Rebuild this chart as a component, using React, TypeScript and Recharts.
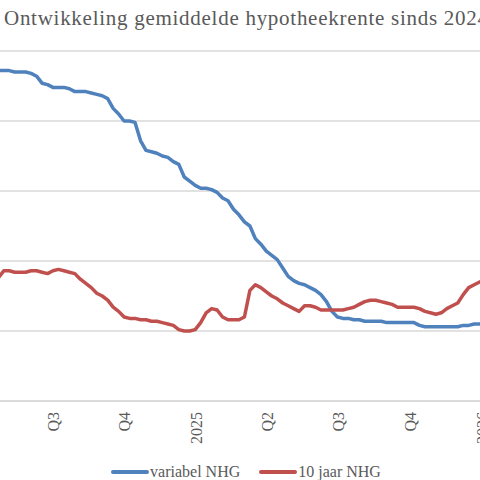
import React from 'react';
import { LineChart, Line, XAxis, YAxis, CartesianGrid, Legend } from 'recharts';

// weekly averages, first week starting 2024-04-22
const firstWeek = '2024-04-22';

const variabelNHG = [
  5.36, 5.36, 5.36, 5.35, 5.35, 5.35, 5.34, 5.32, 5.27, 5.26,
  5.24, 5.24, 5.24, 5.23, 5.21, 5.21, 5.21, 5.20, 5.19, 5.18,
  5.16, 5.09, 5.05, 5.00, 5.00, 4.99, 4.86, 4.79, 4.78, 4.77,
  4.75, 4.74, 4.71, 4.69, 4.60, 4.57, 4.54, 4.52, 4.52, 4.51,
  4.49, 4.45, 4.43, 4.37, 4.33, 4.28, 4.25, 4.16, 4.12, 4.07,
  4.04, 4.01, 3.95, 3.89, 3.86, 3.84, 3.83, 3.81, 3.79, 3.76,
  3.71, 3.64, 3.60, 3.59, 3.59, 3.58, 3.58, 3.57, 3.57, 3.57,
  3.57, 3.56, 3.56, 3.56, 3.56, 3.56, 3.56, 3.54, 3.53, 3.53,
  3.53, 3.53, 3.53, 3.53, 3.53, 3.54, 3.54, 3.55, 3.55, 3.55,
  3.55, 3.55,
];

const tienJaarNHG = [
  3.88, 3.93, 3.93, 3.92, 3.92, 3.92, 3.93, 3.93, 3.92, 3.91,
  3.93, 3.94, 3.93, 3.92, 3.91, 3.87, 3.84, 3.81, 3.77, 3.75,
  3.72, 3.67, 3.64, 3.60, 3.59, 3.59, 3.58, 3.58, 3.57, 3.57,
  3.56, 3.55, 3.54, 3.51, 3.50, 3.50, 3.51, 3.56, 3.63, 3.66,
  3.65, 3.60, 3.58, 3.58, 3.58, 3.60, 3.79, 3.83, 3.81, 3.78,
  3.75, 3.73, 3.70, 3.68, 3.66, 3.64, 3.68, 3.68, 3.67, 3.65,
  3.65, 3.65, 3.65, 3.65, 3.66, 3.67, 3.69, 3.71, 3.72, 3.72,
  3.71, 3.70, 3.69, 3.67, 3.67, 3.67, 3.67, 3.66, 3.64, 3.63,
  3.62, 3.63, 3.66, 3.68, 3.70, 3.76, 3.81, 3.83, 3.85, 3.86,
  3.86, 3.87,
];

const tickDates = ['2024-07-01', '2024-10-01', '2025-01-01', '2025-04-01', '2025-07-01', '2025-10-01', '2026-01-01'];
const tickLabels = ['Q3', 'Q4', '2025', 'Q2', 'Q3', 'Q4', '2026'];
const yTicks = [3, 3.5, 4, 4.5, 5, 5.5];

const origin = Date.UTC(2024, 0, 1);
const dayOf = (iso: string) => (Date.parse(iso + 'T00:00:00Z') - origin) / 86400000;

const data = variabelNHG.map((v, i) => ({
  day: dayOf(firstWeek) + i * 7,
  variabel: v,
  tienJaar: tienJaarNHG[i],
}));

const tickDays = tickDates.map(dayOf);

const FONT = '"Liberation Serif", serif';
const GREY = '#595959';
const BLUE = '#4f81bd';
const RED = '#c0504d';

const QuarterTick = (props: any) => {
  const { x, y, payload } = props;
  const idx = tickDays.indexOf(payload.value);
  return (
    <text
      x={x}
      y={y}
      dy="0.35em"
      transform={`rotate(-90, ${x}, ${y})`}
      textAnchor="end"
      fill={GREY}
      fontSize={16}
      fontFamily={FONT}
    >
      {idx >= 0 ? tickLabels[idx] : ''}
    </text>
  );
};

const renderLegend = () => {
  const items = [
    { name: 'variabel NHG', color: BLUE },
    { name: '10 jaar NHG', color: RED },
  ];
  return (
    <div style={{ display: 'flex', justifyContent: 'center', alignItems: 'center', height: 16, fontFamily: FONT, fontSize: 16, color: GREY }}>
      {items.map((it, i) => (
        <div key={it.name} style={{ display: 'flex', alignItems: 'center', marginRight: i === 0 ? 19 : 0 }}>
          <svg width={38} height={6}>
            <line x1={2} y1={3} x2={36} y2={3} stroke={it.color} strokeWidth={4} strokeLinecap="round" />
          </svg>
          <span style={{ marginLeft: 1, lineHeight: '16px', whiteSpace: 'nowrap' }}>{it.name}</span>
        </div>
      ))}
    </div>
  );
};

export default function App() {
  return (
    <div style={{ position: 'fixed', left: 0, top: 0, width: 480, height: 480, overflow: 'hidden', background: '#fff' }}>
      <div style={{ position: 'absolute', left: -12, top: 0 }}>
        <LineChart width={516} height={480} data={data} margin={{ top: 51, right: 0, bottom: 0, left: 0 }}>
          <CartesianGrid vertical={false} stroke="#d9d9d9" strokeWidth={1.3} />
          <XAxis
            dataKey="day"
            type="number"
            domain={[98.84, 759.19]}
            allowDataOverflow
            ticks={tickDays}
            interval={0}
            tick={<QuarterTick />}
            tickLine={false}
            tickSize={0}
            tickMargin={11}
            height={63}
            axisLine={{ stroke: '#d9d9d9', strokeWidth: 1.3 }}
          />
          <YAxis hide width={0} domain={[3, 5.5]} ticks={yTicks} />
          <Legend verticalAlign="bottom" content={renderLegend} />
          <Line type="linear" dataKey="variabel" name="variabel NHG" stroke={BLUE} strokeWidth={3.5} dot={false} strokeLinejoin="round" isAnimationActive={false} />
          <Line type="linear" dataKey="tienJaar" name="10 jaar NHG" stroke={RED} strokeWidth={3.5} dot={false} strokeLinejoin="round" isAnimationActive={false} />
        </LineChart>
      </div>
      <svg width={480} height={40} style={{ position: 'absolute', left: 0, top: 0 }}>
        <text x={246} y={25} textAnchor="middle" fontSize={21} fontFamily={FONT} fill={GREY} textLength={484} lengthAdjust="spacing">
          Ontwikkeling gemiddelde hypotheekrente sinds 2024
        </text>
      </svg>
    </div>
  );
}
